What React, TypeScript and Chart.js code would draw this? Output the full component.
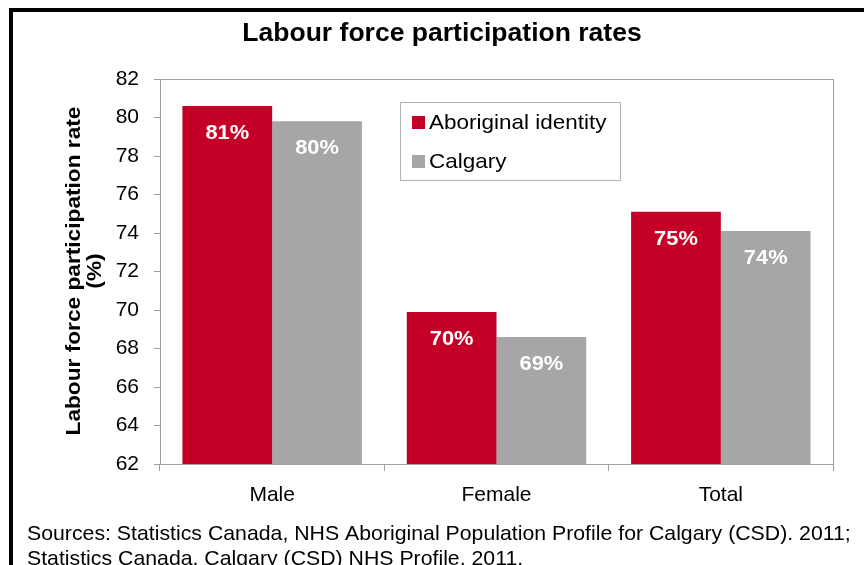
import React, { useEffect, useRef } from 'react';
import { Chart, registerables } from 'chart.js';

Chart.register(...registerables);

const categories = ['Male', 'Female', 'Total'];
const seriesNames = ['Aboriginal identity', 'Calgary'];
const aboriginalValues = [80.6, 69.9, 75.1];
const calgaryValues = [79.8, 68.6, 74.1];
const yMin = 62;
const yMax = 82;
const yStep = 2;
const chartTitle = 'Labour force participation rates';
const yTitleLines = ['Labour force participation rate', '(%)'];
const sourceLines = [
  'Sources: Statistics Canada, NHS Aboriginal Population Profile for Calgary (CSD). 2011;',
  'Statistics Canada, Calgary (CSD) NHS Profile, 2011.',
];

const RED = '#C40026';
const GRAY = '#A6A6A6';
const AXIS = '#A0A0A0';
const FONT = '"Liberation Sans", Arial, Helvetica, sans-serif';

function drawStretched(
  ctx: CanvasRenderingContext2D,
  text: string,
  x: number,
  y: number,
  font: string,
  sx: number,
  align: 'left' | 'center' | 'right',
  baseline: CanvasTextBaseline = 'alphabetic'
) {
  ctx.save();
  ctx.font = font;
  ctx.textBaseline = baseline;
  ctx.textAlign = 'left';
  const w = ctx.measureText(text).width * sx;
  let left = x;
  if (align === 'center') left = x - w / 2;
  if (align === 'right') left = x - w;
  ctx.translate(left, y);
  ctx.scale(sx, 1);
  ctx.fillText(text, 0, 0);
  ctx.restore();
}

const decorPlugin = {
  id: 'decor',
  afterDatasetsDraw(chart: any) {
    const ctx: CanvasRenderingContext2D = chart.ctx;
    chart.data.datasets.forEach((ds: any, di: number) => {
      const meta = chart.getDatasetMeta(di);
      meta.data.forEach((el: any, i: number) => {
        const v = ds.data[i] as number;
        ctx.save();
        ctx.fillStyle = '#FFFFFF';
        drawStretched(ctx, Math.round(v) + '%', el.x, el.y + 33, `bold 21px ${FONT}`, 1.04, 'center');
        ctx.restore();
      });
    });
  },
  afterDraw(chart: any) {
    const ctx: CanvasRenderingContext2D = chart.ctx;
    const area = chart.chartArea;
    ctx.save();
    // plot frame (top / right)
    ctx.strokeStyle = AXIS;
    ctx.lineWidth = 1;
    ctx.beginPath();
    ctx.moveTo(Math.round(area.left) + 0.5, Math.round(area.top) + 0.5);
    ctx.lineTo(Math.round(area.right) + 0.5, Math.round(area.top) + 0.5);
    ctx.lineTo(Math.round(area.right) + 0.5, Math.round(area.bottom) + 0.5);
    ctx.stroke();

    // outer black frame
    ctx.strokeStyle = '#000000';
    ctx.lineWidth = 4;
    ctx.strokeRect(11, 10, 1000, 1000);

    ctx.fillStyle = '#000000';
    // title
    drawStretched(ctx, chartTitle, 442, 41, `bold 26px ${FONT}`, 1.02, 'center');

    // y-axis title (rotated)
    const lineXs = [74, 95];
    yTitleLines.forEach((line, i) => {
      ctx.save();
      ctx.translate(lineXs[i], 271);
      ctx.rotate(-Math.PI / 2);
      drawStretched(ctx, line, 0, 0, `bold 21px ${FONT}`, 1.08, 'center', 'middle');
      ctx.restore();
    });

    // sources
    sourceLines.forEach((line, i) => {
      drawStretched(ctx, line, 27, 540 + i * 25, `21px ${FONT}`, 1.013, 'left');
    });

    // legend
    ctx.strokeStyle = '#B4B4B4';
    ctx.lineWidth = 1;
    ctx.strokeRect(400.5, 102.5, 220, 78);
    const colors = [RED, GRAY];
    seriesNames.forEach((name, i) => {
      const top = 116 + i * 39;
      ctx.fillStyle = colors[i];
      ctx.fillRect(412, top, 13, 13);
      ctx.fillStyle = '#000000';
      drawStretched(ctx, name, 429, top + 13, `21px ${FONT}`, 1.07, 'left');
    });
    ctx.restore();
  },
};

export default function App() {
  const canvasRef = useRef<HTMLCanvasElement | null>(null);

  useEffect(() => {
    const canvas = canvasRef.current;
    if (!canvas) return;
    const chart = new Chart(canvas, {
      type: 'bar',
      data: {
        labels: categories,
        datasets: [
          {
            label: seriesNames[0],
            data: aboriginalValues,
            backgroundColor: RED,
            borderWidth: 0,
            barPercentage: 1,
            categoryPercentage: 0.8,
          },
          {
            label: seriesNames[1],
            data: calgaryValues,
            backgroundColor: GRAY,
            borderWidth: 0,
            barPercentage: 1,
            categoryPercentage: 0.8,
          },
        ],
      },
      options: {
        responsive: false,
        animation: false,
        devicePixelRatio: 1,
        layout: { padding: { top: 79, right: 31, left: 0, bottom: 0 } },
        plugins: {
          legend: { display: false },
          title: { display: false },
          tooltip: { enabled: false },
        },
        scales: {
          x: {
            offset: true,
            grid: {
              display: true,
              offset: true,
              drawOnChartArea: false,
              drawTicks: true,
              tickLength: 7,
              color: AXIS,
            },
            border: { display: true, color: AXIS, width: 1 },
            ticks: {
              color: '#000000',
              font: { family: FONT, size: 21 },
              padding: 12,
            },
            afterFit(scale: any) {
              scale.height = 565 - 464;
            },
          },
          y: {
            min: yMin,
            max: yMax,
            grid: {
              display: true,
              drawOnChartArea: false,
              drawTicks: true,
              tickLength: 6,
              color: AXIS,
            },
            border: { display: true, color: AXIS, width: 1 },
            ticks: {
              stepSize: yStep,
              color: '#000000',
              font: { family: FONT, size: 21 },
              padding: 15,
            },
            afterFit(scale: any) {
              scale.width = 160;
            },
          },
        },
      },
      plugins: [decorPlugin],
    });
    return () => chart.destroy();
  }, []);

  return (
    <div style={{ position: 'absolute', left: 0, top: 0, width: 864, height: 565, background: '#FFFFFF' }}>
      <canvas ref={canvasRef} width={864} height={565} style={{ display: 'block', width: 864, height: 565 }} />
    </div>
  );
}
